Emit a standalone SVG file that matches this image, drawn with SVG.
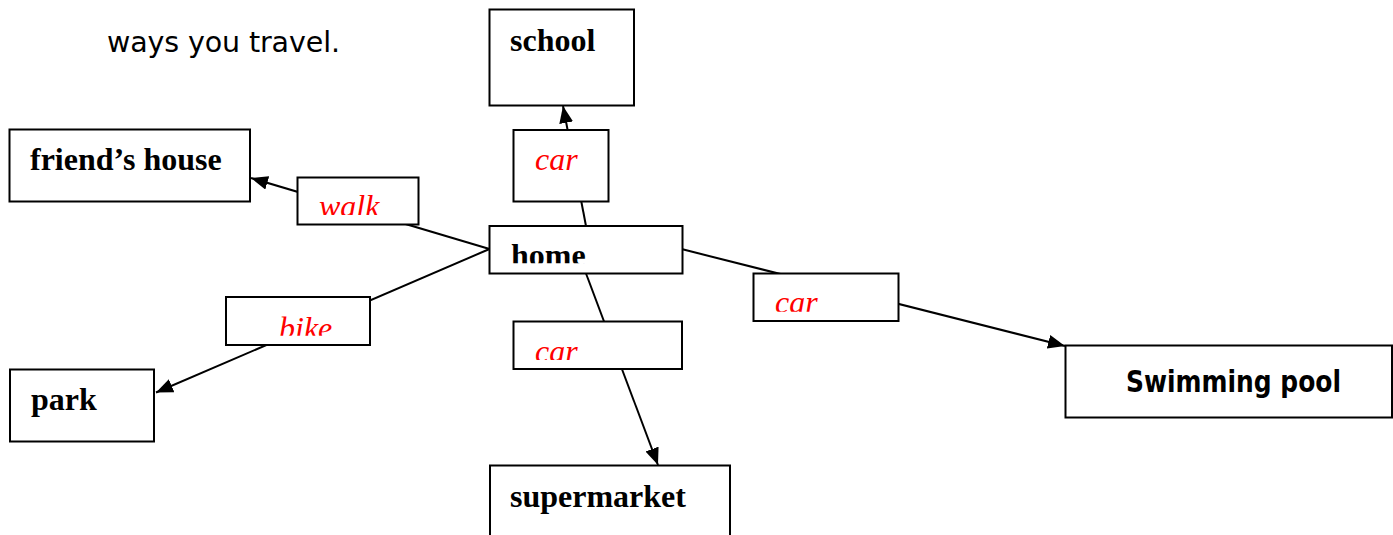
<svg xmlns="http://www.w3.org/2000/svg" width="1393" height="535" viewBox="0 0 1393 535">
<style>
.box{fill:#fff;stroke:#000;stroke-width:2}
.conn{stroke:#000;stroke-width:2;fill:none;marker-end:url(#arr)}
.nt{font-family:"Liberation Serif","Times New Roman",serif;font-weight:bold;font-size:32px;fill:#000}
.lt{font-family:"Liberation Serif","Times New Roman",serif;font-style:italic;font-size:32px;fill:#ff0000}
.cs{font-family:"DejaVu Sans",sans-serif;fill:#000}
</style>
<defs>
<marker id="arr" markerUnits="userSpaceOnUse" markerWidth="18" markerHeight="15" refX="17" refY="7" orient="auto">
<path d="M0,0 L17,7 L0,14 z" fill="#000"/>
</marker>
<clipPath id="cHome"><rect x="489" y="226" width="194" height="37.3"/></clipPath>
<clipPath id="cWalk"><rect x="298" y="178" width="120" height="37"/></clipPath>
<clipPath id="cBike"><rect x="226" y="297" width="144" height="38.7"/></clipPath>
<clipPath id="cCarR"><rect x="754" y="273" width="144" height="38.7"/></clipPath>
<clipPath id="cCarL"><rect x="514" y="322" width="168" height="38"/></clipPath>
</defs>
<text class="cs" x="107" y="52" font-size="28.5" textLength="233">ways you travel.</text>
<g id="connectors">
<line class="conn" x1="586" y1="226" x2="563" y2="106"/>
<line class="conn" x1="489.5" y1="249" x2="251" y2="178"/>
<line class="conn" x1="489.5" y1="249" x2="156" y2="392.5"/>
<line class="conn" x1="586" y1="273.5" x2="658" y2="465"/>
<line class="conn" x1="682.5" y1="249.3" x2="1065" y2="346"/>
</g>
<g id="school"><rect class="box" x="489.5" y="9.5" width="144.5" height="96"/><text class="nt" x="510" y="51">school</text></g>
<g id="friends-house"><rect class="box" x="9.5" y="129.5" width="240.5" height="72"/><text class="nt" x="30" y="170">friend’s house</text></g>
<g id="home"><rect class="box" x="489.5" y="226" width="193" height="47.5"/><text class="nt" x="511" y="266" clip-path="url(#cHome)">home</text></g>
<g id="park"><rect class="box" x="10" y="369.5" width="144" height="72"/><text class="nt" x="31" y="410">park</text></g>
<g id="supermarket"><rect class="box" x="490" y="465.5" width="240" height="80"/><text class="nt" x="510" y="507">supermarket</text></g>
<g id="swimming-pool"><rect class="box" x="1065.5" y="345.5" width="326.5" height="72"/><text class="cs" x="1126" y="392" font-size="30" font-weight="bold" textLength="215" lengthAdjust="spacingAndGlyphs">Swimming pool</text></g>
<g id="label-car-school"><rect class="box" x="513.5" y="130" width="95" height="71.5"/><text class="lt" x="535" y="170">car</text></g>
<g id="label-walk"><rect class="box" x="297.5" y="177.5" width="121" height="47"/><text class="lt" x="319" y="217" clip-path="url(#cWalk)">walk</text></g>
<g id="label-bike"><rect class="box" x="226" y="297" width="144" height="48"/><text class="lt" x="279" y="338.6" clip-path="url(#cBike)">bike</text></g>
<g id="label-car-pool"><rect class="box" x="753.5" y="273.5" width="145" height="47.5"/><text class="lt" x="775" y="313" clip-path="url(#cCarR)">car</text></g>
<g id="label-car-supermarket"><rect class="box" x="513.5" y="321.5" width="168.5" height="47.5"/><text class="lt" x="535" y="361.5" clip-path="url(#cCarL)">car</text></g>
</svg>
